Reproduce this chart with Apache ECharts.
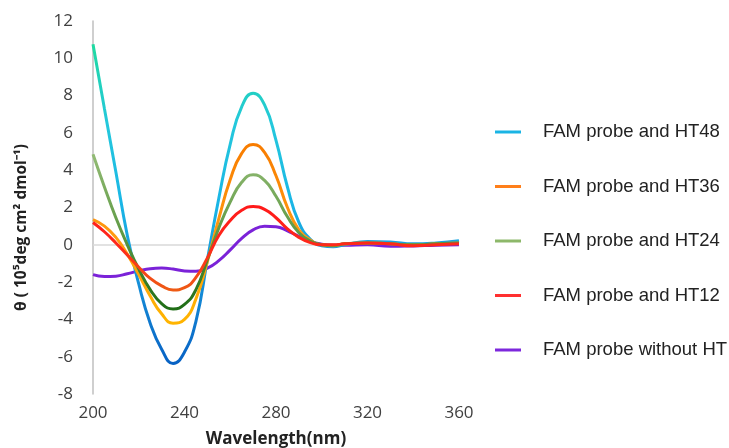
<!DOCTYPE html>
<html>
<head>
<meta charset="utf-8">
<script src="https://cdn.jsdelivr.net/npm/echarts@6/dist/echarts.min.js"></script>
<style>html,body{margin:0;padding:0;background:#fff;}#c{width:729px;height:448px;}</style>
</head>
<body>
<div id="c"></div>
<script>
var wavelengths = [200,205,210,215,220,225,230,235,240,245,250,255,260,265,270,275,280,285,290,295,300,305,310,320,330,340,350,360];
var seriesNames = ['FAM probe and HT48','FAM probe and HT36','FAM probe and HT24','FAM probe and HT12','FAM probe without HT'];
var ht48 = [10.75,7.3,3.9,0.5,-2.1,-4.2,-5.6,-6.36,-5.75,-4.1,-0.8,2.5,5.4,7.4,8.12,7.5,5.6,3.1,1.2,0.3,-0.05,-0.1,0.0,0.18,0.15,0.05,0.1,0.22];
var ht36 = [1.35,1.0,0.4,-0.5,-1.6,-2.75,-3.7,-4.2,-4.0,-2.9,-0.9,1.4,3.5,4.9,5.38,4.95,3.7,2.0,0.8,0.25,0.0,-0.05,0.05,0.1,0.05,0.0,0.05,0.1];
var ht24 = [4.85,3.1,1.45,0.0,-1.3,-2.4,-3.15,-3.44,-3.2,-2.4,-0.8,0.9,2.3,3.35,3.75,3.45,2.6,1.5,0.65,0.2,0.0,-0.03,0.05,0.1,0.05,0.0,0.05,0.1];
var ht12 = [1.2,0.7,0.1,-0.55,-1.2,-1.8,-2.2,-2.42,-2.3,-1.75,-0.7,0.5,1.3,1.85,2.05,1.9,1.45,0.85,0.4,0.12,0.0,0.0,0.05,0.1,0.05,-0.05,0.0,0.05];
var noHT = [-1.6,-1.7,-1.68,-1.55,-1.4,-1.28,-1.25,-1.3,-1.4,-1.42,-1.25,-0.85,-0.27,0.35,0.8,1.0,0.97,0.75,0.45,0.18,0.03,-0.02,-0.02,0.0,-0.08,-0.06,-0.02,0.0];
var yTicks = {min:-8, max:12, step:2};
var xTicks = {min:200, max:360, step:40};

var allValues = [ht48, ht36, ht24, ht12, noHT];
var legendColors = ['#1ab4e4','#ff7f1a','#8db86a','#ff3030','#7d28dc'];
var gradColors = [
  ['#0862c4','#168fd8','#1ab6e6','#24c8dc','#1fdaa0'],
  ['#ffb400','#ff9a10','#f87c00'],
  ['#1f6d16','#5f9a45','#93bb75'],
  ['#ee5a14','#ff2a1a','#ff1a1a'],
  ['#7b22d8','#7b22d8']
];

function pairs(vals){ return wavelengths.map(function(w,i){ return [w, vals[i]]; }); }

var series = allValues.map(function(vals, i){
  var s = {
    name: seriesNames[i],
    type: 'line',
    data: pairs(vals),
    smooth: 0.5,
    symbol: 'none',
    lineStyle: { width: 3 },
    z: 2 + (i === 4 ? 0 : 1)
  };
  if (i === 0) {
    s.markLine = {
      silent: true, symbol: 'none', z: 1,
      label: { show: false },
      lineStyle: { color: '#d9d9d9', width: 1.5, type: 'solid' },
      data: [{ yAxis: 0 }]
    };
  }
  return s;
});

var visualMaps = allValues.map(function(vals, i){
  return {
    show: false, type: 'continuous', seriesIndex: i, dimension: 1,
    min: Math.min.apply(null, vals), max: Math.max.apply(null, vals),
    inRange: { color: gradColors[i] }
  };
});

var chart = echarts.init(document.getElementById('c'));
chart.setOption({
  animation: false,
  backgroundColor: '#fff',
  grid: { left: 93, right: 270, top: 21, bottom: 54, outerBoundsMode: 'none', containLabel: false },
  xAxis: {
    type: 'value', min: xTicks.min, max: xTicks.max, interval: xTicks.step,
    axisLine: { show: false, onZero: false },
    axisTick: { show: false },
    splitLine: { show: false },
    axisLabel: { fontFamily: 'Open Sans', fontSize: 17, color: '#404040', margin: 11 },
    name: 'Wavelength(nm)', nameLocation: 'middle', nameGap: 37,
    nameTextStyle: { fontFamily: 'Open Sans', fontWeight: 'bold', fontSize: 17, color: '#222' }
  },
  yAxis: {
    type: 'value', min: yTicks.min, max: yTicks.max, interval: yTicks.step,
    axisLine: { show: true, lineStyle: { color: '#bfbfbf', width: 1.5 } },
    axisTick: { show: false },
    splitLine: { show: false },
    axisLabel: { fontFamily: 'Open Sans', fontSize: 17, color: '#404040', margin: 20 },
    name: 'θ ( 10⁵deg cm² dmol⁻¹)', nameLocation: 'middle', nameGap: 63, nameRotate: 90,
    nameTextStyle: { fontFamily: 'Open Sans', fontWeight: 'bold', fontSize: 15.5, color: '#222', padding: [0, 40, 0, 0] }
  },
  legend: {
    orient: 'vertical', left: 495, top: 122, padding: 0,
    itemWidth: 26, itemHeight: 3, itemGap: 34.5, icon: 'rect',
    textStyle: { fontFamily: 'Liberation Sans', fontSize: 18.5, color: '#222', lineHeight: 20, padding: [0,0,0,17] },
    data: seriesNames.map(function(n, i){ return { name: n, itemStyle: { color: legendColors[i] } }; })
  },
  visualMap: visualMaps,
  series: series
});
</script>
</body>
</html>
